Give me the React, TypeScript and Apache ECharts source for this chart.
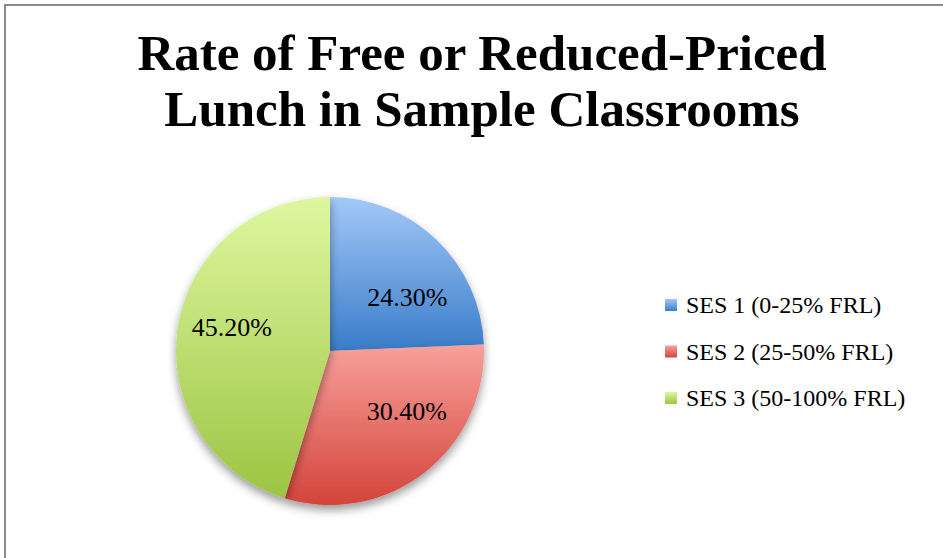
import React, { useEffect, useRef } from "react";
import * as echarts from "echarts";

const titleText = "Rate of Free or Reduced-Priced\nLunch in Sample Classrooms";
const categories = ["SES 1 (0-25% FRL)", "SES 2 (25-50% FRL)", "SES 3 (50-100% FRL)"];
const values = [24.3, 30.4, 45.2];
const topColors = ["#a2c8f8", "#f8a09b", "#def79f"];
const bottomColors = ["#3a7cc9", "#d3443a", "#9dc443"];
const labelOffsets = [[22, 4], [28, -3], [-19, -12]];

export default function App() {
  const ref = useRef<HTMLDivElement>(null);
  useEffect(() => {
    if (!ref.current) return;
    const chart = echarts.init(ref.current, null, { renderer: "svg" });
    const font = "'Liberation Serif', 'DejaVu Serif', serif";
    chart.setOption({
      animation: false,
      backgroundColor: "transparent",
      title: {
        text: titleText,
        left: 482,
        textAlign: "center",
        top: 25,
        padding: 0,
        textStyle: {
          fontFamily: font,
          fontWeight: "bold",
          fontSize: 51,
          lineHeight: 56,
          color: "#000",
        },
      },
      legend: {
        orient: "vertical",
        left: 660,
        top: 288,
        itemWidth: 12,
        itemHeight: 12,
        itemGap: 22.5,
        icon: "rect",
        textStyle: { fontFamily: font, fontSize: 24, lineHeight: 24, color: "#000", padding: [0, 0, 0, 4] },
        data: categories,
      },
      series: [
        {
          type: "pie",
          center: [330, 351],
          radius: 154,
          startAngle: 90,
          clockwise: true,
          silent: true,
          label: {
            show: true,
            position: "inside",
            fontFamily: font,
            fontSize: 26,
            color: "#000",
            formatter: (p: any) => p.value.toFixed(2) + "%",
          },
          labelLine: { show: false },
          itemStyle: {
            borderWidth: 0,
            shadowBlur: 10,
            shadowOffsetY: 5,
            shadowColor: "rgba(0,0,0,0.4)",
          },
          data: categories.map((name, i) => ({
            name,
            value: values[i],
            label: { offset: labelOffsets[i] },
            itemStyle: {
              color: new echarts.graphic.LinearGradient(0, 0, 0, 1, [
                { offset: 0, color: topColors[i] },
                { offset: 1, color: bottomColors[i] },
              ]),
            },
          })),
        },
      ],
    });
    return () => chart.dispose();
  }, []);
  return (
    <div style={{ position: "absolute", left: 0, top: 0, width: 943, height: 558, overflow: "hidden", background: "#fff" }}>
      <div
        style={{
          position: "absolute",
          left: 4,
          top: 4,
          width: 1000,
          height: 700,
          border: "2px solid #8a8a8a",
        }}
      />
      <div ref={ref} style={{ position: "absolute", left: 0, top: 0, width: 943, height: 558 }} />
    </div>
  );
}
